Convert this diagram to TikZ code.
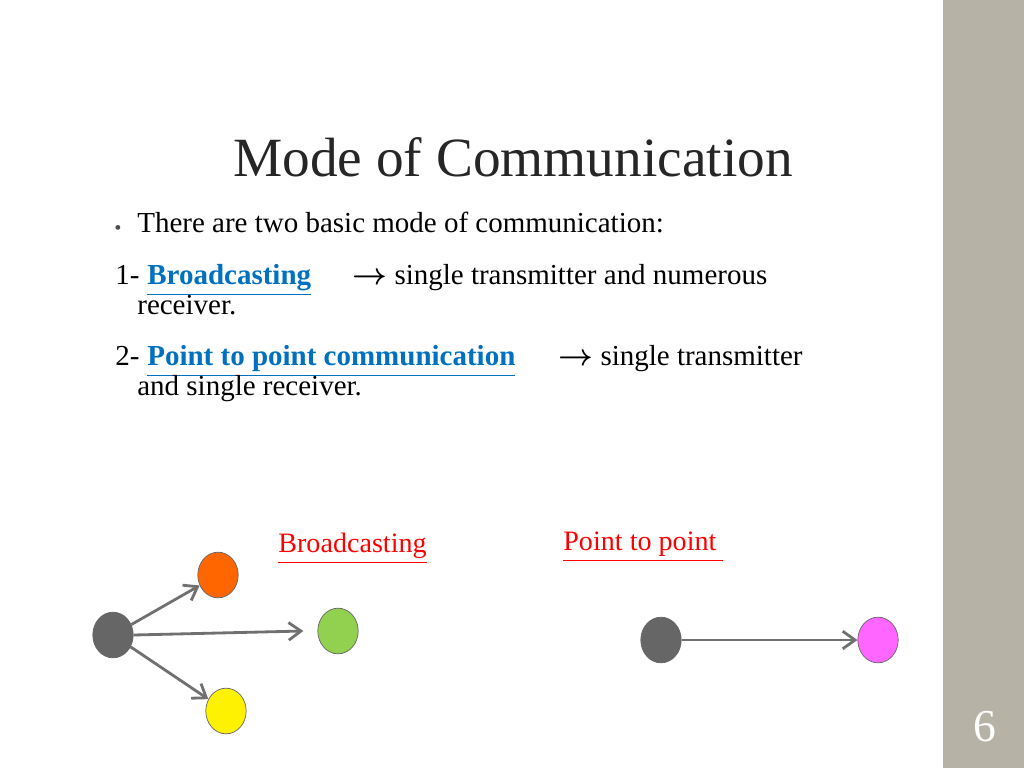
\documentclass[tikz,border=0pt]{standalone}
\usepackage{amsmath,bm}
\usepackage{fontspec}
\setmainfont{Liberation Serif}
\usetikzlibrary{arrows.meta}
\usetikzlibrary{shapes.geometric}
\definecolor{barcol}{RGB}{183,178,166}
\definecolor{linkblue}{RGB}{0,112,192}
\definecolor{arrowgray}{RGB}{112,112,112}
\tikzset{
	bodytext/.style={anchor=base west, inner sep=0pt, font=\fontsize{16.5}{19}\selectfont},
	linktext/.style={bodytext, text=linkblue, font=\fontsize{16.5}{19}\selectfont\bfseries},
	redlabel/.style={anchor=base west, inner sep=0pt, text=red, font=\fontsize{16}{19}\selectfont},
	dot/.style={ellipse, draw=black!60, minimum width=23pt, minimum height=26pt, inner sep=0pt},
	sendarrow/.style={-{Straight Barb[length=7pt,width=10pt]}, draw=arrowgray, line width=1.6pt}
}
\begin{document}
\begin{tikzpicture}[x=0.02cm,y=-0.02cm]
		\useasboundingbox (0,0) rectangle (1024,768);
		\fill[barcol] (943,0) rectangle (1024,768);
		\node[text=white, font=\fontsize{26}{30}\selectfont] at (985,727) (pg) {6};
		
		%Title and text
		\node[font=\fontsize{31.5}{36}\selectfont, text=black!85] at (513,157) (title) {Mode of Communication};
		\node[font=\fontsize{6}{8}\selectfont, text=black!70] at (118,228) (bul) {$\bullet$};
		\node[bodytext] at (137,232) (l1) {There are two basic mode of communication:};
		\node[bodytext] at (115,284) (n1) {1-};
		\node[linktext] at (147,284) (bc) {\underline{Broadcasting}};
		\node[bodytext] at (352,284) (a1) {$\bm{\rightarrow}$ single transmitter and numerous};
		\node[bodytext] at (137,314) (l3) {receiver.};
		\node[bodytext] at (115,365) (n2) {2-};
		\node[linktext] at (147,365) (pp) {\underline{Point to point communication}};
		\node[bodytext] at (558,365) (a2) {$\bm{\rightarrow}$ single transmitter};
		\node[bodytext] at (137,395) (l5) {and single receiver.};
		
		%Labels
		\node[redlabel] at (278,552) (lb) {\underline{Broadcasting}};
		\node[redlabel] at (563,550) (lp) {\underline{Point to point\ }};
		
		%Circles
		\node[dot, fill=black!60] at (113,635) (src) {};
		\node[dot, fill={rgb,255:red,255;green,102;blue,0}] at (218,575) (r1) {};
		\node[dot, fill={rgb,255:red,146;green,208;blue,80}] at (338,631) (r2) {};
		\node[dot, fill=yellow] at (226,711) (r3) {};
		\node[dot, fill=black!60] at (661,640) (tx) {};
		\node[dot, fill={rgb,255:red,255;green,102;blue,255}] at (878,640) (rx) {};
		
		%Arrows
		\draw[sendarrow] (src) -- (r1);
		\draw[sendarrow] (src.east) -- ([xshift=-8]r2.west);
		\draw[sendarrow] (src) -- (r3);
		\draw[sendarrow] (tx.east) -- (rx.west);
	\end{tikzpicture}
\end{document}
